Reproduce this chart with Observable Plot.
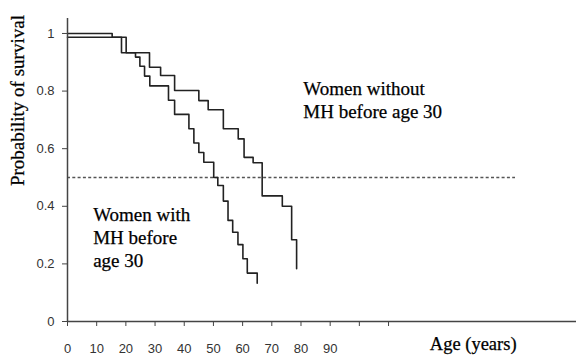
<!DOCTYPE html>
<html>
<head>
<meta charset="utf-8">
<script src="https://cdn.jsdelivr.net/npm/d3@7"></script>
<script src="https://cdn.jsdelivr.net/npm/@observablehq/plot@0.6"></script>
<style>
  html, body { margin: 0; padding: 0; background: #fff; }
  #chart svg { display: block; }
</style>
</head>
<body>
<div id="chart"></div>
<script>
// Women without MH before age 30 (Kaplan-Meier steps)
const withoutAge  = [0, 15.3, 20.1, 28.1, 31.9, 36.7, 45.0, 48.2, 53.4, 58.5, 60.5, 63.6, 66.7, 73.6, 76.8, 78.5];
const withoutSurv = [1.0, 0.987, 0.933, 0.883, 0.854, 0.802, 0.767, 0.735, 0.669, 0.634, 0.570, 0.551, 0.436, 0.400, 0.284, 0.183];
// Women with MH before age 30
const withAge  = [0, 18.5, 23.3, 24.8, 26.4, 28.2, 34.6, 36.7, 41.6, 43.3, 45.0, 46.7, 50.1, 51.5, 53.4, 55.0, 56.6, 58.4, 60.1, 61.6, 65.0];
const withSurv = [0.987, 0.933, 0.918, 0.886, 0.852, 0.818, 0.768, 0.719, 0.669, 0.620, 0.587, 0.553, 0.500, 0.472, 0.418, 0.351, 0.310, 0.267, 0.218, 0.168, 0.133];

const xTicks = [0, 10, 20, 30, 40, 50, 60, 70, 80, 90, 100, 110];
const xTickLabels = ["0", "10", "20", "30", "40", "50", "60", "70", "80", "90", "", ""];
const yTicks = [0, 0.2, 0.4, 0.6, 0.8, 1];
const yTickLabels = ["0", "0.2", "0.4", "0.6", "0.8", "1"];
const medianLevel = [0.5];

const labelWithout = "Women without\nMH before age 30";
const labelWith = "Women with\nMH before\nage 30";
const xTitle = "Age (years)";
const yTitle = "Probability of survival";

const seriesWithout = withoutAge.map((a, i) => ({age: a, surv: withoutSurv[i]}));
const seriesWith = withAge.map((a, i) => ({age: a, surv: withSurv[i]}));

const serif = "'Liberation Serif', 'Times New Roman', serif";
const sans = "'Liberation Sans', Arial, sans-serif";
const ink = "#333";

const chart = Plot.plot({
  width: 576,
  height: 356,
  marginLeft: 67,
  marginRight: 0,
  marginTop: 18,
  marginBottom: 35,
  style: {background: "#fff", color: ink, fontFamily: sans, fontSize: "13px"},
  x: {domain: [0, 174.4]},
  y: {domain: [0, 1.052]},
  marks: [
    Plot.ruleY(medianLevel, {x1: 0, x2: 153.5, stroke: "#555", strokeWidth: 1.5, strokeDasharray: "3,2.3"}),
    Plot.line(seriesWithout, {x: "age", y: "surv", curve: "step-after", stroke: "#222", strokeWidth: 1.6}),
    Plot.line(seriesWith, {x: "age", y: "surv", curve: "step-after", stroke: "#222", strokeWidth: 1.6}),
    Plot.ruleX([0], {y1: 0, y2: 1.052, stroke: "#444", strokeWidth: 1.5}),
    Plot.ruleY([0], {x1: 0, x2: 174.4, stroke: "#444", strokeWidth: 1.5}),
    Plot.axisX({ticks: xTicks, tickSize: 5, tickPadding: 17, label: null,
      tickFormat: (d) => xTickLabels[xTicks.indexOf(d)], fontSize: 13, stroke: "#444", fill: ink}),
    Plot.axisY({ticks: yTicks, tickSize: 5, tickPadding: 8, label: null,
      tickFormat: (d) => yTickLabels[yTicks.indexOf(d)], fontSize: 13, stroke: "#444", fill: ink}),
    Plot.text([labelWithout], {x: 80.8, y: 0.773, text: (d) => d, textAnchor: "start", lineAnchor: "middle",
      lineHeight: 1.21, fontFamily: serif, fontSize: 19, fill: "#000", stroke: "#000", strokeWidth: 0.25}),
    Plot.text([labelWith], {x: 8.8, y: 0.293, text: (d) => d, textAnchor: "start", lineAnchor: "middle",
      lineHeight: 1.21, fontFamily: serif, fontSize: 19, fill: "#000", stroke: "#000", strokeWidth: 0.25}),
    Plot.text([xTitle], {x: 139, y: -0.078, text: (d) => d, textAnchor: "middle", lineAnchor: "middle",
      fontFamily: serif, fontSize: 18.5, fill: "#000", stroke: "#000", strokeWidth: 0.25}),
    Plot.text([yTitle], {frameAnchor: "left", y: 0.767, dx: -50, rotate: -90, text: (d) => d,
      textAnchor: "middle", lineAnchor: "middle", fontFamily: serif, fontSize: 19, fill: "#000", stroke: "#000", strokeWidth: 0.25})
  ]
});
document.getElementById("chart").appendChild(chart);
</script>
</body>
</html>
